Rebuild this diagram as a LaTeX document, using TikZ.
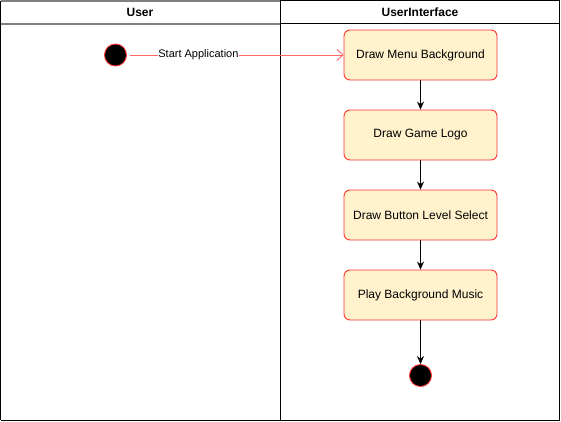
\documentclass[tikz,border=0pt]{standalone}
\usepackage{fontspec}
\setmainfont{Liberation Sans}
\usetikzlibrary{positioning, arrows.meta}
\definecolor{boxfill}{HTML}{FFF2CC}
\definecolor{boxline}{HTML}{FF3333}
\definecolor{flowline}{HTML}{FF6666}

\begin{document}
\begin{tikzpicture}[
    x=1pt, y=-1pt,
    action/.style={rectangle, rounded corners=6pt, draw=boxline, line width=0.9pt, fill=boxfill, minimum width=153pt, minimum height=50pt, font=\fontsize{12}{14}\selectfont},
    lane/.style={font=\fontsize{12}{14}\selectfont\bfseries},
    dot/.style={circle, draw=boxline, line width=0.9pt, fill=black, minimum size=22pt, inner sep=0pt},
    arrow/.style={-{Stealth[length=8pt, width=7pt]}, black, semithick},
    startarrow/.style={-{Straight Barb[length=6pt, width=11pt]}, flowline, line width=0.9pt}
]
\useasboundingbox (0,0) rectangle (561,421);

% Swimlanes
\draw[gray, line width=1.5pt] (0.5,1) -- (280,1);
\draw[gray, line width=1.5pt] (0.5,24) -- (280,24);
\draw[black] (0.5,0.5) -- (0.5,420);
\draw[black] (280,0.5) -- (559.5,0.5) -- (559.5,420) -- (0.5,420);
\draw[black] (280,0.5) -- (280,420);
\draw[black] (280,23.5) -- (559.5,23.5);
\node[lane] (userhead) at (140,12.5) {User};
\node[lane] (uihead) at (420,12.5) {UserInterface};

% Start node
\node[dot] (start) at (115.5,55) {};

% Actions in the UserInterface lane
\foreach \i/\txt in {0/Draw Menu Background, 1/Draw Game Logo, 2/Draw Button Level Select, 3/Play Background Music} {
    \node[action] (act\i) at (420.5,55+80*\i) {\txt};
}

% End node
\node[dot] (finish) at (420.5,375.5) {};

% Connectors
\draw[startarrow, shorten <=3pt] (start) -- node[fill=white, text=black, inner sep=0.5pt, font=\fontsize{11}{13}\selectfont, pos=0.33] {Start Application} (act0);
\foreach \i/\j in {0/1, 1/2, 2/3} {
    \draw[arrow] (act\i) -- (act\j);
}
\draw[arrow] (act3) -- (finish);

\end{tikzpicture}
\end{document}
